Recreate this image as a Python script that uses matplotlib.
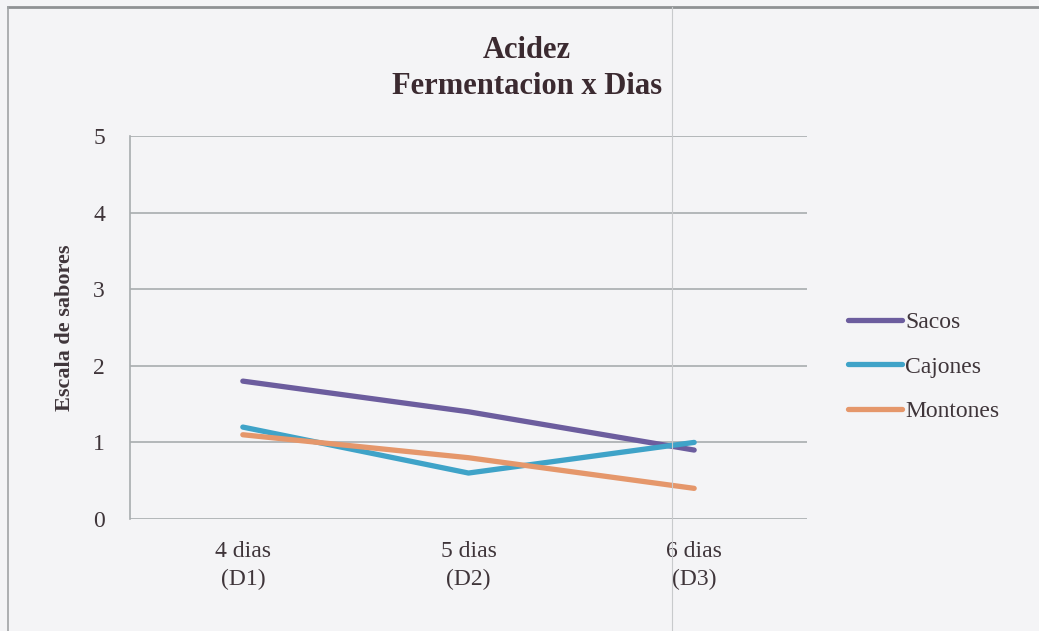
import matplotlib.pyplot as plt
from matplotlib.lines import Line2D

# ---------- DATA ----------
dias = ["4 dias\n(D1)", "5 dias\n(D2)", "6 dias\n(D3)"]
sacos = [1.8, 1.4, 0.9]
cajones = [1.2, 0.6, 1.0]
montones = [1.1, 0.8, 0.4]
# --------------------------

W, H = 1039, 631
bg = "#f4f4f6"
txt = "#3f353a"

plt.rcParams['font.family'] = ['Liberation Serif', 'DejaVu Serif']

fig = plt.figure(figsize=(W / 100, H / 100), dpi=100, facecolor=bg)
ax = fig.add_axes([130 / W, 1 - 519 / H, (807 - 130) / W, (519 - 136) / H])
ax.set_facecolor(bg)

x = list(range(len(dias)))
ax.plot(x, sacos, color="#6c5d9e", lw=3.8, label="Sacos", solid_capstyle="round")
ax.plot(x, cajones, color="#3fa3c8", lw=3.8, label="Cajones", solid_capstyle="round")
ax.plot(x, montones, color="#e5976b", lw=3.8, label="Montones", solid_capstyle="round")

ax.set_xlim(-0.5, len(dias) - 0.5)
ax.set_ylim(0, 5)
ax.set_yticks(range(6))
ax.set_xticks(x)
ax.set_xticklabels(dias, fontsize=17, color=txt, linespacing=1.4)
ax.tick_params(axis="y", labelsize=17, labelcolor=txt, length=0, pad=18)
ax.tick_params(axis="x", length=0, pad=16)
ax.grid(axis="y", color="#a8acae", lw=1.2)
ax.set_axisbelow(True)
for s in ["top", "right", "bottom"]:
    ax.spines[s].set_visible(False)
ax.spines["left"].set_color("#a8acae")
ax.spines["left"].set_linewidth(1.2)

ax.set_ylabel("Escala de sabores", fontsize=16, fontweight="bold", color=txt, labelpad=13)

fig.text(527 / W, 1 - 50 / H, "Acidez", ha="center", va="center",
         fontsize=22, fontweight="bold", color="#3b2a30")
fig.text(527 / W, 1 - 87 / H, "Fermentacion x Dias", ha="center", va="center",
         fontsize=22, fontweight="bold", color="#3b2a30")

ax.legend(loc="center left", bbox_to_anchor=(848 / W, 1 - 367 / H),
          bbox_transform=fig.transFigure, frameon=False, fontsize=17,
          handlelength=2.3, handletextpad=0.12, labelspacing=0.98,
          borderpad=0, borderaxespad=0, labelcolor=txt)

# page frame and fold line
fig.add_artist(Line2D([8 / W, 1], [1 - 7 / H, 1 - 7 / H], color="#8f9294", lw=2,
                      transform=fig.transFigure))
fig.add_artist(Line2D([8 / W, 8 / W], [0, 1 - 7 / H], color="#a0a3a5", lw=1.2,
                      transform=fig.transFigure))
fig.add_artist(Line2D([672 / W, 672 / W], [0, 1 - 7 / H], color="#c8cacc", lw=0.8,
                      transform=fig.transFigure))

fig.savefig("out.png", dpi=100, facecolor=bg)
